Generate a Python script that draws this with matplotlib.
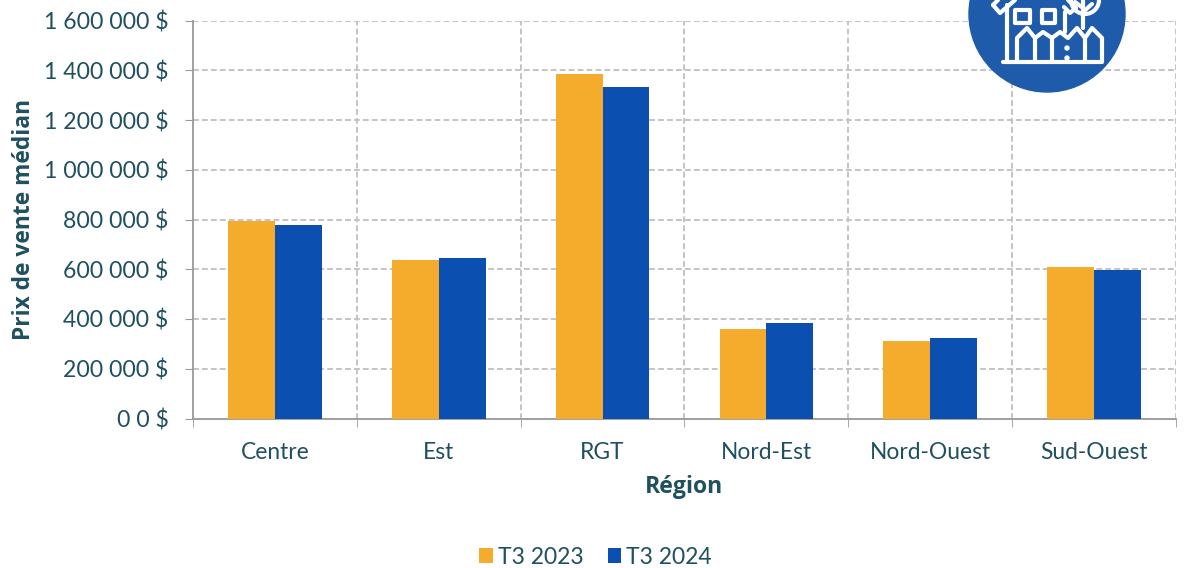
import matplotlib
matplotlib.use('Agg')
import matplotlib.pyplot as plt
from matplotlib.patches import Circle, Polygon, Rectangle
from matplotlib.lines import Line2D
from matplotlib.ticker import FuncFormatter

regions = ['Centre', 'Est', 'RGT', 'Nord-Est', 'Nord-Ouest', 'Sud-Ouest']
t3_2023 = [793000, 638000, 1383000, 360000, 312000, 608000]
t3_2024 = [776000, 647000, 1332000, 383000, 325000, 598000]
series_names = ['T3 2023', 'T3 2024']
yticks = list(range(0, 1600001, 200000))

W, H = 1192, 568
plt.rcParams['font.family'] = ['Lato', 'DejaVu Sans']
txt = '#1f5060'
grid = '#c4c4c4'
fig = plt.figure(figsize=(W/100, H/100), dpi=100)
ax = fig.add_axes([193/W, 1-418.5/H, (1176-193)/W, (418.5-20.5)/H])
x = list(range(len(regions)))
w = 0.286
ax.bar([i-w/2 for i in x], t3_2023, w, color='#f5ab2c', label=series_names[0], zorder=3)
ax.bar([i+w/2 for i in x], t3_2024, w, color='#0b4fb0', label=series_names[1], zorder=3)
ax.set_xlim(-0.5, 5.5)
ax.set_ylim(0, 1600000)
ax.set_yticks(yticks)
ax.yaxis.set_major_formatter(FuncFormatter(lambda v, p: (f'{int(v):,}'.replace(',', ' ') if v else '0 0') + ' $'))
ax.set_xticks(x, regions)
ax.set_xticks([i-0.5 for i in range(7)], minor=True)
dash = (0, (3, 1.6))
ax.grid(True, axis='y', color=grid, ls=dash, lw=1.4, zorder=0)
ax.grid(True, axis='x', which='minor', color=grid, ls=dash, lw=1.4, zorder=0)
for s in ['top', 'right']:
    ax.spines[s].set_visible(False)
for s in ['left', 'bottom']:
    ax.spines[s].set_color('#9a9a9a')
    ax.spines[s].set_linewidth(1.3)
ax.tick_params(axis='y', labelsize=16.6, labelcolor=txt, length=6, color='#9a9a9a', pad=11.5)
ax.tick_params(axis='x', which='major', labelsize=16.4, labelcolor=txt, length=0, pad=17)
ax.tick_params(axis='x', which='minor', length=6, color='#9a9a9a')
fig.text(24/W, 1-219/H, 'Prix de vente médian', rotation=90, ha='center', va='center', fontsize=16.4, fontweight='bold', color=txt, family='Open Sans')
fig.text(684/W, 1-487/H, 'Région', ha='center', va='center', fontsize=16.6, fontweight='bold', color=txt, family='Open Sans')
fig.legend(loc='center', bbox_to_anchor=(595.5/W, 1-557/H), ncol=2, frameon=False, fontsize=16.5, labelcolor=txt,
           handlelength=0.6, handleheight=0.6, handletextpad=0.22, columnspacing=1.05)

ov = fig.add_axes([0, 0, 1, 1], facecolor='none')
ov.set_xlim(0, W); ov.set_ylim(H, 0); ov.axis('off')
ov.add_patch(Circle((1047, 14), 78, color='#1f5bab', zorder=1))
LW = 3.0
lk = dict(fill=False, ec='white', lw=LW, zorder=2, joinstyle='round')
def path(*pts):
    ov.add_line(Line2D([p[0] for p in pts], [p[1] for p in pts], color='white', lw=LW, zorder=2, solid_capstyle='round', solid_joinstyle='round'))
path((1003, 62), (1101, 62))
path((1007, 62), (1007, 5))
path((1065, 32), (1065, 12))
path((993, 5), (1000, 13), (1007, 7), (1015, 0))
path((993, 5), (998, 0))
path((1068, 0), (1076, 8), (1070, 13), (1064, 7))
ov.add_patch(Rectangle((1015, 10), 15, 13, **lk))
ov.add_patch(Rectangle((1042, 10), 13, 13, **lk))
path((1017, 62), (1017, 38), (1027, 28), (1035, 38), (1043, 32), (1052, 38), (1060, 32), (1068, 38), (1077, 28), (1085, 38), (1092, 28), (1102, 38), (1102, 62))
path((1035, 38), (1035, 62))
path((1052, 38), (1052, 62))
path((1085, 38), (1085, 62))
path((1083, 28), (1083, 0))
path((1083, 12), (1092, 4))
path((1083, 8), (1075, 2))
ov.add_patch(Circle((1085, 0), 14, **lk))
ov.add_patch(Circle((1067, 48), 2, color='white', zorder=2))
ov.add_patch(Circle((1067, 58), 2, color='white', zorder=2))
fig.savefig('out.png', dpi=100)
